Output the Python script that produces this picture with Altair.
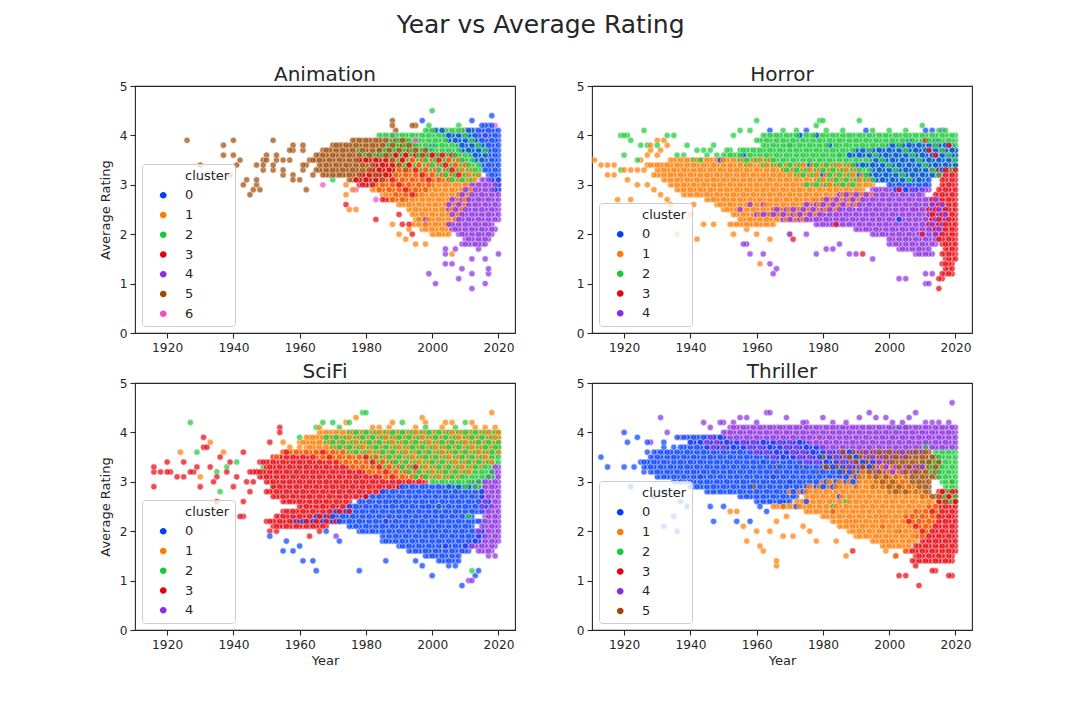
import altair as alt
import pandas as pd

alt.data_transformers.disable_max_rows()

palette = ["#023eff", "#ff7c00", "#1ac938", "#e8000b", "#8b2be2", "#9f4800", "#f14cc1"]
year_ticks = [1920, 1940, 1960, 1980, 2000, 2020]
rating_ticks = [0, 1, 2, 3, 4, 5]

# dense bands are [rating, first year, last year]; loose points are [year, rating]

# ---- Animation ----
anim0_rows = [[4.2, 2015, 2018], [4.1, 2010, 2020], [4.0, 2004, 2020], [3.9, 2005, 2020],
              [3.8, 2008, 2020], [3.7, 2009, 2020], [3.6, 2012, 2020], [3.5, 2013, 2020],
              [3.4, 2015, 2020], [3.3, 2016, 2020], [3.2, 2017, 2020], [3.1, 2018, 2020],
              [3.0, 2019, 2020], [2.9, 2019, 2020]]
anim0_pts = [[1997, 4.3], [2012, 4.3], [2018, 4.4], [2001, 4.1], [2003, 4.1], [1999, 3.7], [2000, 3.8]]
anim1_rows = [[3.5, 1988, 2008], [3.4, 1990, 2010], [3.3, 1990, 2012], [3.2, 1988, 2014],
              [3.1, 1985, 2013], [3.0, 1983, 2012], [2.9, 1982, 2012], [2.8, 1985, 2011],
              [2.7, 1988, 2011], [2.6, 1990, 2010], [2.5, 1993, 2009], [2.4, 1994, 2008],
              [2.3, 1995, 2008], [2.2, 1994, 2006], [2.1, 1997, 2005], [2.0, 2000, 2005]]
anim1_pts = [[1974, 3.0], [1976, 2.9], [1974, 2.8], [1975, 2.5], [1977, 2.5], [1988, 2.2], [1992, 1.9],
             [1995, 1.8], [1998, 1.8], [2006, 1.6], [1990, 2.0], [1993, 2.1]]
anim2_rows = [[4.1, 1998, 2012], [4.0, 1984, 2012], [3.9, 1988, 2014], [3.8, 1986, 2015],
              [3.7, 1984, 2016], [3.6, 1980, 2016], [3.5, 1988, 2016], [3.4, 1990, 2014],
              [3.3, 1995, 2015], [3.2, 2000, 2014], [3.1, 2005, 2012]]
anim2_pts = [[2000, 4.5], [1999, 4.2], [1980, 3.0], [1982, 3.0], [1970, 3.1], [1996, 2.3], [2008, 4.2], [1978, 3.7]]
anim3_rows = [[3.6, 1987, 2008], [3.5, 1978, 2010], [3.4, 1983, 2010], [3.3, 1982, 2008],
              [3.2, 1979, 2010], [3.1, 1977, 2005], [3.0, 1978, 2000], [2.9, 1984, 1998],
              [2.8, 1988, 1996], [2.7, 1985, 1992]]
anim3_pts = [[1974, 2.6], [1983, 2.3], [1991, 2.2], [1993, 2.2], [1994, 2.0], [1990, 2.4]]
anim4_rows = [[3.1, 2015, 2020], [3.0, 2012, 2020], [2.9, 2010, 2020], [2.8, 2008, 2020],
              [2.7, 2006, 2020], [2.6, 2005, 2020], [2.5, 2005, 2020], [2.4, 2006, 2020],
              [2.3, 2007, 2020], [2.2, 2005, 2018], [2.1, 2006, 2019], [2.0, 2008, 2018],
              [1.9, 2010, 2017], [1.8, 2009, 2016]]
anim4_pts = [[2004, 1.7], [2004, 1.6], [2006, 1.4], [2004, 1.4], [1999, 1.2], [2001, 1.0], [2008, 1.1],
             [2012, 0.9], [2016, 1.0], [2017, 1.3], [2017, 1.2], [2020, 1.6], [2012, 1.2], [2009, 1.3],
             [2012, 1.5], [2016, 1.5], [1998, 2.2], [1998, 2.3], [2007, 1.7], [2014, 1.7]]
anim5_rows = [[3.9, 1976, 1992], [3.8, 1970, 1995], [3.7, 1967, 1998], [3.6, 1965, 2000],
              [3.5, 1963, 1996], [3.4, 1966, 1998], [3.3, 1965, 1992], [3.2, 1967, 1988],
              [3.1, 1975, 1985]]
anim5_pts = [[1926, 3.9], [1940, 3.9], [1952, 3.9], [1937, 3.8], [1958, 3.8], [1961, 3.8], [1957, 3.7],
             [1958, 3.7], [1961, 3.7], [1937, 3.6], [1940, 3.6], [1950, 3.6], [1953, 3.6], [1942, 3.5],
             [1949, 3.5], [1950, 3.5], [1953, 3.5], [1955, 3.5], [1957, 3.5], [1930, 3.4], [1941, 3.4],
             [1947, 3.4], [1949, 3.4], [1952, 3.4], [1961, 3.4], [1962, 3.4], [1949, 3.3], [1952, 3.3],
             [1955, 3.3], [1961, 3.3], [1944, 3.1], [1947, 3.1], [1958, 3.1], [1960, 3.1], [1943, 3.0],
             [1947, 3.0], [1946, 2.9], [1948, 2.9], [1962, 2.9], [1945, 2.8], [1988, 4.3], [1988, 4.2],
             [1994, 4.2], [1995, 4.2], [1989, 4.1], [1955, 3.2], [1958, 3.2], [1964, 3.2], [1939, 3.2]]
anim6_rows = []
anim6_pts = [[1967, 3.0], [1977, 2.9], [1983, 2.7], [1988, 4.0], [1999, 4.1], [1995, 3.9], [2019, 4.2],
             [1997, 3.7], [2009, 4.1], [2013, 3.9], [2016, 4.0], [2005, 3.6], [2010, 3.0], [2002, 3.3]]

# ---- Horror ----
horr0_rows = [[3.8, 2000, 2018], [3.7, 1990, 2020], [3.6, 1988, 2020], [3.5, 1995, 2020],
              [3.4, 1988, 2020], [3.3, 1995, 2018], [3.2, 1990, 2015], [3.1, 1995, 2012],
              [3.0, 2000, 2012], [2.9, 2002, 2010]]
horr0_pts = [[1964, 4.1], [1975, 4.1], [1978, 4.0], [1973, 4.0], [1993, 4.1], [2011, 4.1], [2014, 3.9],
             [2006, 3.9], [2019, 3.8], [1956, 3.6], [1949, 3.5], [1978, 2.7], [2003, 2.3], [1970, 3.8],
             [1982, 3.8], [1985, 3.6], [1976, 3.4], [1980, 3.2], [2016, 4.1], [2013, 4.1]]
horr1_rows = [[3.5, 1934, 1965], [3.4, 1927, 1990], [3.3, 1930, 1990], [3.2, 1929, 1992],
              [3.1, 1932, 1995], [3.0, 1934, 1995], [2.9, 1936, 1992], [2.8, 1938, 1995],
              [2.7, 1945, 1992], [2.6, 1948, 1990], [2.5, 1950, 1985], [2.4, 1953, 1980],
              [2.3, 1955, 1975], [2.2, 1952, 1965]]
horr1_pts = [[1911, 3.5], [1930, 3.9], [1932, 3.9], [1928, 3.8], [1933, 3.8], [1928, 3.7], [1931, 3.7],
             [1918, 2.7], [1922, 2.7], [1942, 1.9], [1961, 1.4], [1953, 2.0], [1936, 2.0], [1947, 2.2],
             [1944, 2.2], [1940, 2.4], [1934, 2.6], [1957, 2.1], [1960, 2.0], [1964, 1.9], [1970, 2.0],
             [1913, 3.4], [1915, 3.4], [1917, 3.4], [1915, 3.2], [1917, 3.2], [1920, 3.3], [1922, 3.3],
             [1924, 3.3], [1926, 3.3], [1921, 3.1], [1924, 3.0], [1927, 3.0], [1929, 2.9], [1931, 2.8],
             [1925, 3.5], [1927, 3.6], [1930, 3.6], [1933, 2.7], [1941, 2.6]]
horr2_rows = [[4.0, 1962, 2020], [3.9, 1960, 2020], [3.8, 1962, 2020], [3.7, 1955, 2020],
              [3.6, 1950, 2020], [3.5, 1955, 2020], [3.4, 1962, 2020], [3.3, 1968, 2020],
              [3.2, 1972, 2015], [3.1, 1978, 2010], [3.0, 1975, 1990]]
horr2_pts = [[1919, 4.0], [1920, 4.0], [1921, 4.0], [1926, 4.1], [1922, 3.9], [1925, 3.8], [1927, 3.8],
             [1933, 4.0], [1935, 4.0], [1939, 3.8], [1942, 3.7], [1944, 3.7], [1946, 3.7], [1924, 3.5],
             [1919, 3.3], [1920, 3.6], [1951, 3.7], [1952, 3.7], [1953, 4.0], [1955, 4.1], [1960, 4.3],
             [1979, 4.3], [1980, 4.3], [1991, 4.3], [1958, 4.1], [1968, 4.1], [1972, 4.1], [1978, 4.2],
             [1981, 4.1], [1986, 4.1], [1995, 4.1], [2000, 4.1], [2005, 4.1], [2015, 4.1], [2017, 4.1],
             [2010, 4.2], [1930, 3.8], [1936, 3.6], [1948, 3.6], [1938, 3.6], [1941, 3.5], [1945, 3.6],
             [1947, 3.8], [1950, 3.5], [1957, 3.4], [1943, 3.5]]
horr3_rows = [[3.3, 2013, 2020], [3.2, 2015, 2020], [3.1, 2016, 2020], [3.0, 2016, 2020],
              [2.9, 2015, 2020], [2.8, 2014, 2020], [2.7, 2013, 2020], [2.6, 2013, 2020],
              [2.5, 2012, 2020], [2.4, 2012, 2020], [2.3, 2013, 2020], [2.2, 2012, 2020],
              [2.1, 2013, 2020], [2.0, 2014, 2020], [1.9, 2015, 2020], [1.8, 2016, 2020],
              [1.7, 2017, 2020], [1.6, 2016, 2020], [1.5, 2017, 2020], [1.4, 2016, 2019],
              [1.3, 2017, 2019], [1.2, 2016, 2019]]
horr3_pts = [[1992, 1.6], [2015, 0.9], [2015, 1.1], [2016, 1.1], [1984, 2.2], [1971, 1.9], [2011, 3.9],
             [2012, 3.7], [2003, 2.9], [2008, 2.5], [2010, 2.0], [2014, 3.6], [2018, 3.8]]
horr4_rows = [[2.9, 1995, 2012], [2.8, 1985, 2010], [2.7, 1980, 2015], [2.6, 1975, 2016],
              [2.5, 1965, 2017], [2.4, 1960, 2017], [2.3, 1968, 2017], [2.2, 1978, 2016],
              [2.1, 1990, 2016], [2.0, 1995, 2015], [1.9, 2000, 2015], [1.8, 2000, 2014],
              [1.7, 2003, 2012], [1.6, 2008, 2013]]
horr4_pts = [[1956, 1.8], [1957, 1.8], [1958, 1.6], [1962, 1.6], [1964, 1.4], [1966, 1.3], [1965, 1.2],
             [1978, 1.6], [1981, 1.7], [1983, 1.7], [1988, 1.6], [1990, 1.6], [1995, 1.5], [2003, 1.1],
             [2005, 1.1], [2011, 1.0], [2012, 1.0], [2011, 1.2], [2013, 1.2], [1955, 2.5], [1958, 2.6],
             [1962, 2.6], [1970, 2.0], [1975, 2.0], [1985, 1.8]]

# ---- SciFi ----
sci0_rows = [[2.9, 1990, 2012], [2.8, 1985, 2015], [2.7, 1980, 2015], [2.6, 1978, 2017],
             [2.5, 1975, 2017], [2.4, 1970, 2015], [2.3, 1965, 2012], [2.2, 1958, 2015],
             [2.1, 1975, 2012], [2.0, 1978, 2015], [1.9, 1985, 2015], [1.8, 1985, 2014],
             [1.7, 1990, 2012], [1.6, 1993, 2011], [1.5, 1998, 2008], [1.4, 2002, 2008]]
sci0_pts = [[1951, 1.9], [1956, 1.8], [1955, 1.6], [1958, 1.6], [1961, 1.4], [1964, 1.4], [1965, 1.2],
            [1978, 1.2], [1986, 1.4], [1995, 1.4], [2000, 1.1], [2009, 0.9], [2013, 1.1], [2014, 1.2],
            [1997, 1.3], [1962, 2.2], [1968, 2.0], [1972, 1.8], [1960, 1.7], [2005, 1.3], [2007, 1.3]]
sci1_rows = [[4.0, 1966, 2020], [3.9, 1962, 2020], [3.8, 1960, 2020], [3.7, 1962, 2020],
             [3.6, 1955, 2020], [3.5, 1965, 2018], [3.4, 1970, 2018], [3.3, 1975, 2015],
             [3.2, 1980, 2012], [3.1, 1985, 2010]]
sci1_pts = [[1924, 3.6], [1933, 3.8], [1937, 3.6], [1955, 3.8], [1956, 3.6], [1957, 3.7], [1960, 3.7],
            [1977, 4.3], [1997, 4.3], [1998, 4.2], [2004, 4.2], [2006, 4.2], [2018, 4.4], [1966, 4.1],
            [1982, 4.1], [1984, 4.1], [1987, 4.1], [1995, 4.1], [2003, 4.1], [2013, 4.1], [2016, 4.1],
            [2019, 4.1], [1974, 4.2], [1988, 4.2], [2012, 4.2], [1953, 3.5], [1930, 3.1]]
sci2_rows = [[4.0, 1975, 2020], [3.9, 1968, 2020], [3.8, 1968, 2020], [3.7, 1970, 2020],
             [3.6, 1975, 2020], [3.5, 1980, 2020], [3.4, 1982, 2020], [3.3, 1985, 2018],
             [3.2, 1990, 2018], [3.1, 1995, 2018], [3.0, 2000, 2015], [2.9, 2005, 2015]]
sci2_pts = [[1927, 4.2], [1929, 3.6], [1938, 3.3], [1941, 3.4], [1936, 2.8], [1949, 3.3], [1952, 2.9],
            [1979, 4.4], [1980, 4.4], [1965, 4.1], [1967, 4.2], [1970, 4.2], [1975, 4.2], [1991, 4.2],
            [2010, 4.2], [2002, 2.5], [2011, 2.3], [2012, 1.2], [1935, 3.2], [1960, 3.9], [1972, 4.1],
            [1998, 4.1], [2007, 4.1]]
sci3_rows = [[3.6, 1955, 1975], [3.5, 1952, 1985], [3.4, 1948, 1990], [3.3, 1950, 1995],
             [3.2, 1945, 1995], [3.1, 1948, 1998], [3.0, 1950, 1998], [2.9, 1952, 1990],
             [2.8, 1950, 1985], [2.7, 1952, 1980], [2.6, 1955, 1975], [2.5, 1960, 1975],
             [2.4, 1955, 1975], [2.3, 1953, 1970], [2.2, 1950, 1972], [2.1, 1952, 1968]]
sci3_pts = [[1916, 3.3], [1916, 3.2], [1916, 2.9], [1918, 3.2], [1920, 3.2], [1921, 3.2], [1920, 3.4],
            [1923, 3.1], [1925, 3.1], [1925, 3.4], [1927, 3.2], [1928, 3.2], [1931, 3.9], [1931, 3.7],
            [1932, 3.7], [1930, 2.9], [1933, 3.3], [1935, 3.1], [1936, 3.5], [1935, 2.6], [1943, 3.6],
            [1942, 2.3], [1943, 2.3], [1944, 3.0], [1943, 2.6], [1947, 3.2], [1951, 3.8], [1954, 4.1],
            [1954, 4.0], [1951, 2.0], [1953, 2.0], [1963, 1.9], [1966, 2.0], [1938, 3.2], [1940, 2.9],
            [1945, 2.8], [1939, 3.4], [1946, 3.0], [1934, 3.0], [1929, 3.3], [1941, 3.1]]
sci4_rows = [[3.3, 2019, 2020], [3.2, 2018, 2020], [3.1, 2016, 2020], [3.0, 2012, 2020],
             [2.9, 2013, 2020], [2.8, 2015, 2020], [2.7, 2015, 2020], [2.6, 2016, 2020],
             [2.5, 2015, 2020], [2.4, 2016, 2020], [2.3, 2016, 2020], [2.2, 2016, 2020],
             [2.1, 2015, 2020], [2.0, 2014, 2020], [1.9, 2014, 2020], [1.8, 2012, 2019],
             [1.7, 2010, 2019], [1.6, 2014, 2018]]
sci4_pts = [[1971, 1.9], [1986, 2.2], [1988, 2.6], [2012, 1.0], [2008, 3.8], [2020, 1.8], [2011, 1.0],
            [2004, 1.7], [2000, 2.0], [2019, 1.5], [2017, 1.5], [2015, 3.4], [1998, 2.5]]

# ---- Thriller ----
thr0_rows = [[3.9, 1938, 1950], [3.8, 1940, 1975], [3.7, 1937, 1980], [3.6, 1930, 1990],
             [3.5, 1928, 1990], [3.4, 1925, 1995], [3.3, 1926, 1995], [3.2, 1928, 1993],
             [3.1, 1930, 1992], [3.0, 1935, 1990], [2.9, 1940, 1985], [2.8, 1945, 1975],
             [2.7, 1955, 1972], [2.6, 1960, 1970]]
thr0_pts = [[1913, 3.5], [1915, 3.3], [1920, 3.3], [1923, 3.3], [1920, 4.0], [1921, 3.8], [1924, 3.9],
            [1927, 3.8], [1926, 3.2], [1927, 3.6], [1929, 3.6], [1932, 3.7], [1932, 3.8], [1935, 3.7],
            [1936, 3.9], [1922, 2.9], [1932, 2.8], [1932, 2.1], [1936, 2.0], [1935, 2.3], [1939, 2.5],
            [1946, 2.5], [1947, 2.2], [1950, 2.5], [1954, 2.2], [1958, 2.2], [1961, 2.5], [1963, 2.4],
            [1968, 2.6], [1972, 2.5], [1975, 2.6], [1985, 2.7], [1990, 2.9], [1937, 2.6], [1929, 2.7]]
thr1_rows = [[3.3, 1995, 2005], [3.2, 1990, 2008], [3.1, 1988, 2005], [3.0, 1980, 2005],
             [2.9, 1975, 2008], [2.8, 1970, 2010], [2.7, 1975, 2012], [2.6, 1972, 2013],
             [2.5, 1965, 2014], [2.4, 1975, 2015], [2.3, 1980, 2014], [2.2, 1983, 2014],
             [2.1, 1985, 2012], [2.0, 1988, 2012], [1.9, 1990, 2010], [1.8, 1995, 2008],
             [1.7, 1998, 2006]]
thr1_pts = [[1952, 2.4], [1954, 2.4], [1956, 2.1], [1957, 1.8], [1960, 2.0], [1961, 1.7], [1962, 1.6],
            [1964, 2.0], [1966, 1.4], [1966, 1.3], [1966, 2.2], [1968, 1.9], [1971, 1.9], [1978, 1.8],
            [1984, 1.8], [1987, 1.5], [1974, 2.1], [1976, 2.0], [1969, 2.3], [2002, 1.5], [2005, 1.6],
            [1999, 1.6]]
thr2_rows = [[3.6, 2014, 2020], [3.5, 2013, 2020], [3.4, 2012, 2020], [3.3, 2012, 2020],
             [3.2, 2013, 2020], [3.1, 2015, 2020], [3.0, 2016, 2020], [2.9, 2017, 2020],
             [2.8, 2017, 2020], [2.7, 2017, 2020], [2.6, 2018, 2020]]
thr2_pts = [[2002, 4.1], [2005, 4.1], [1983, 2.5], [1987, 2.6], [2008, 3.6], [2010, 3.4], [2011, 3.7]]
thr3_rows = [[2.8, 2015, 2020], [2.7, 2016, 2020], [2.6, 2015, 2020], [2.5, 2012, 2020],
             [2.4, 2008, 2020], [2.3, 2005, 2020], [2.2, 2005, 2020], [2.1, 2008, 2020],
             [2.0, 2010, 2020], [1.9, 2008, 2020], [1.8, 2010, 2020], [1.7, 2008, 2020],
             [1.6, 2005, 2020], [1.5, 2008, 2019], [1.4, 2007, 2019]]
thr3_pts = [[1989, 1.6], [1983, 2.4], [1989, 2.2], [2003, 1.1], [2005, 1.1], [2009, 0.9], [2013, 1.2],
            [2014, 1.2], [2018, 1.1], [2019, 1.1], [2008, 1.3], [2002, 1.5], [2000, 1.8], [2003, 2.0],
            [1998, 2.3]]
thr4_rows = [[4.1, 1952, 2020], [4.0, 1950, 2020], [3.9, 1945, 2020], [3.8, 1940, 2020],
             [3.7, 1945, 2020], [3.6, 1960, 2010], [3.5, 1965, 2005], [3.4, 1975, 2000],
             [3.3, 1988, 2010], [3.2, 1995, 2008]]
thr4_pts = [[1931, 4.3], [1933, 4.0], [1944, 4.2], [1949, 4.2], [1950, 4.2], [1953, 4.2], [1955, 4.3],
            [1957, 4.3], [1963, 4.4], [1964, 4.4], [1969, 4.3], [1974, 4.2], [1975, 4.2], [1980, 4.3],
            [1983, 4.2], [1991, 4.3], [1994, 4.4], [1996, 4.3], [2001, 4.2], [2004, 4.2], [2006, 4.3],
            [2008, 4.4], [2019, 4.6], [1928, 3.8], [2011, 4.2], [2015, 4.2], [2018, 4.2], [1960, 4.2],
            [1987, 4.2], [1999, 4.3], [2013, 4.2], [1946, 4.1], [1937, 3.9]]
thr5_rows = [[3.6, 1985, 2012], [3.5, 1980, 2015], [3.4, 1985, 2015], [3.3, 1980, 2015],
             [3.2, 1985, 2015], [3.1, 1990, 2015], [3.0, 1995, 2012], [2.9, 1995, 2012],
             [2.8, 2000, 2012], [2.7, 2010, 2018], [2.6, 2015, 2020]]
thr5_pts = [[1943, 3.1], [1959, 2.9], [1965, 3.1], [1968, 2.5], [1966, 3.3], [1974, 3.3], [1979, 3.2],
            [1983, 2.9], [1998, 2.1], [1962, 3.4], [1970, 3.0], [1976, 3.5], [2016, 2.8], [2019, 3.0]]


def make_frame(clusters):
    recs = []
    for c, (rows, pts) in enumerate(clusters):
        for rating, y0, y1 in rows:
            for yr in range(y0, y1 + 1):
                recs.append((yr, rating, c))
        for yr, rating in pts:
            recs.append((yr, rating, c))
    df = pd.DataFrame(recs, columns=["Year", "rating", "c"])
    # shuffle-like draw order so overlapping clusters mix like the original
    df["z"] = (df["Year"] * 7 + (df["rating"] * 10).round().astype(int) * 3 + df["c"] * 5) % 11
    df = df.sort_values("z", kind="stable")
    df["cluster"] = df["c"].astype(str)
    return df


# circle drawn right of its slot, so the legend symbols sit where seaborn puts them
legend_dot = "M 1.9 0 A 1 1 0 1 0 3.9 0 A 1 1 0 1 0 1.9 0 Z"


def panel(df, title, n, x_title, y_title):
    x_kw = {"title": "Year"} if x_title else {"title": None}
    y_kw = {"title": "Average Rating"} if y_title else {"title": None}
    # seaborn puts the hue name in the legend as a blank-handled first entry
    dom = ["cluster"] + [str(i) for i in range(n)]
    rng = ["rgba(0,0,0,0)"] + palette[:n]
    return (
        alt.Chart(df, title=alt.TitleParams(title, fontSize=20, fontWeight="normal",
                                            color="#262626", offset=4, dy=9, frame="group"))
        .mark_circle(size=40, opacity=0.7, stroke="white", strokeWidth=0.6)
        .encode(
            x=alt.X("Year:Q", scale=alt.Scale(domain=[1910.3, 2025.0], nice=False, zero=False),
                    axis=alt.Axis(values=year_ticks, format="d", titlePadding=4), **x_kw),
            y=alt.Y("rating:Q", scale=alt.Scale(domain=[0, 5], nice=False),
                    axis=alt.Axis(values=rating_ticks, titlePadding=7), **y_kw),
            color=alt.Color(
                "cluster:N",
                scale=alt.Scale(domain=dom, range=rng),
                legend=alt.Legend(
                    title=None, orient="bottom-left", offset=7, padding=5,
                    labelOffset=25, rowPadding=5.75,
                    symbolType=legend_dot, symbolSize=45, symbolStrokeWidth=0, symbolOpacity=1,
                    labelFontSize=13, labelColor="#262626",
                    fillColor="rgba(255,255,255,0.8)", strokeColor="#cccccc", cornerRadius=3,
                ),
            ),
        )
        .properties(width=380, height=247)
    )


anim = make_frame([(anim0_rows, anim0_pts), (anim1_rows, anim1_pts), (anim2_rows, anim2_pts),
                   (anim3_rows, anim3_pts), (anim4_rows, anim4_pts), (anim5_rows, anim5_pts),
                   (anim6_rows, anim6_pts)])
horr = make_frame([(horr0_rows, horr0_pts), (horr1_rows, horr1_pts), (horr2_rows, horr2_pts),
                   (horr3_rows, horr3_pts), (horr4_rows, horr4_pts)])
sci = make_frame([(sci0_rows, sci0_pts), (sci1_rows, sci1_pts), (sci2_rows, sci2_pts),
                  (sci3_rows, sci3_pts), (sci4_rows, sci4_pts)])
thr = make_frame([(thr0_rows, thr0_pts), (thr1_rows, thr1_pts), (thr2_rows, thr2_pts),
                  (thr3_rows, thr3_pts), (thr4_rows, thr4_pts), (thr5_rows, thr5_pts)])

chart = (
    alt.concat(
        panel(anim, "Animation", 7, False, True),
        panel(horr, "Horror", 5, False, False),
        panel(sci, "SciFi", 5, True, True),
        panel(thr, "Thriller", 6, True, False),
        columns=2,
        spacing={"row": 50, "column": 77},
        bounds="flush",
        title=alt.TitleParams("Year vs Average Rating", fontSize=25, fontWeight="normal",
                              color="#262626", anchor="middle", offset=26, dx=5),
    )
    .resolve_scale(color="independent")
    .resolve_legend(color="independent")
    .properties(padding={"left": 90, "top": 5, "right": 10, "bottom": 10})
    .configure(font="DejaVu Sans")
    .configure_view(stroke="#262626", strokeWidth=1.1)
    .configure_axis(
        labelFontSize=12.2, labelColor="#262626", titleFontSize=13, titleColor="#262626",
        titleFontWeight="normal", tickColor="#262626", tickSize=5, tickWidth=1.1,
        labelPadding=3, domain=False, grid=False,
    )
)

chart.save("out.html", embed_options={"renderer": "svg", "actions": False})
